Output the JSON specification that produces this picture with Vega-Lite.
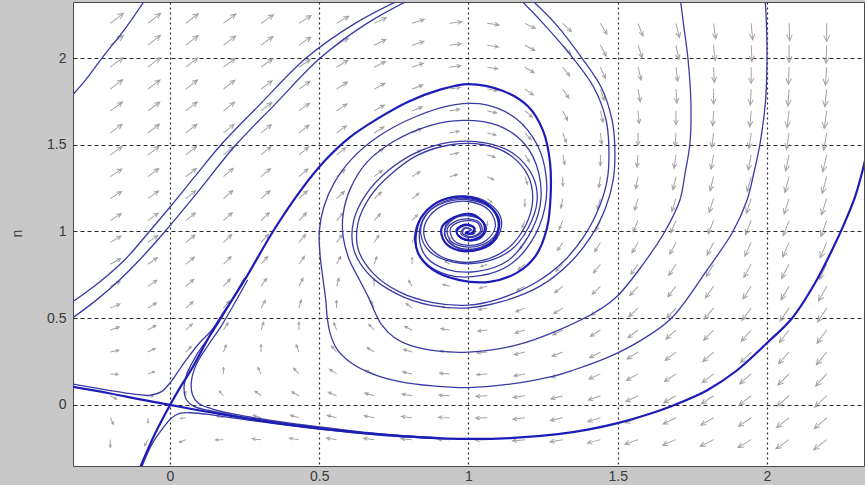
{
"$schema":"https://vega.github.io/schema/vega-lite/v6.json",
"width":791,"height":464,
"autosize":{"type":"none"},
"padding":{"left":73,"top":2,"right":1,"bottom":19},
"background":"#c8c8c8",
"config":{"view":{"fill":"white","stroke":"#4a4a4a","strokeWidth":1},"font":"Liberation Sans"},
"datasets":{
"arrows":[
{"x":-0.2,"y":-0.2,"a":90,"m":0.48},{"x":-0.074,"y":-0.2,"a":119,"m":0.34},{"x":0.053,"y":-0.2,"a":157,"m":0.35},{"x":0.179,"y":-0.2,"a":178,"m":0.49},{"x":0.305,"y":-0.2,"a":-174,"m":0.66},{"x":0.432,"y":-0.2,"a":-171,"m":0.83},{"x":0.558,"y":-0.2,"a":-171,"m":0.99},{"x":0.684,"y":-0.2,"a":-172,"m":1.15},{"x":0.811,"y":-0.2,"a":-175,"m":1.31},{"x":0.937,"y":-0.2,"a":-178,"m":1.47},{"x":1.063,"y":-0.2,"a":178,"m":1.63},{"x":1.189,"y":-0.2,"a":174,"m":1.8},{"x":1.316,"y":-0.2,"a":170,"m":1.99},{"x":1.442,"y":-0.2,"a":165,"m":2.19},{"x":1.568,"y":-0.2,"a":161,"m":2.41},{"x":1.695,"y":-0.2,"a":157,"m":2.66},{"x":1.821,"y":-0.2,"a":153,"m":2.93},{"x":1.947,"y":-0.2,"a":149,"m":3.23},{"x":2.074,"y":-0.2,"a":145,"m":3.56},{"x":2.2,"y":-0.2,"a":142,"m":3.92},
{"x":-0.2,"y":-0.074,"a":64,"m":0.37},{"x":-0.074,"y":-0.074,"a":90,"m":0.16},{"x":0.053,"y":-0.074,"a":173,"m":0.16},{"x":0.179,"y":-0.074,"a":-165,"m":0.34},{"x":0.305,"y":-0.074,"a":-162,"m":0.52},{"x":0.432,"y":-0.074,"a":-163,"m":0.68},{"x":0.558,"y":-0.074,"a":-165,"m":0.84},{"x":0.684,"y":-0.074,"a":-169,"m":1.0},{"x":0.811,"y":-0.074,"a":-173,"m":1.15},{"x":0.937,"y":-0.074,"a":-178,"m":1.31},{"x":1.063,"y":-0.074,"a":178,"m":1.47},{"x":1.189,"y":-0.074,"a":173,"m":1.64},{"x":1.316,"y":-0.074,"a":168,"m":1.84},{"x":1.442,"y":-0.074,"a":163,"m":2.05},{"x":1.568,"y":-0.074,"a":158,"m":2.28},{"x":1.695,"y":-0.074,"a":154,"m":2.55},{"x":1.821,"y":-0.074,"a":150,"m":2.83},{"x":1.947,"y":-0.074,"a":146,"m":3.15},{"x":2.074,"y":-0.074,"a":142,"m":3.51},{"x":2.2,"y":-0.074,"a":139,"m":3.89},
{"x":-0.2,"y":0.053,"a":28,"m":0.37},{"x":-0.074,"y":0.053,"a":8,"m":0.17},{"x":0.053,"y":0.053,"a":-90,"m":0.1},{"x":0.179,"y":0.053,"a":-131,"m":0.25},{"x":0.305,"y":0.053,"a":-143,"m":0.41},{"x":0.432,"y":0.053,"a":-151,"m":0.56},{"x":0.558,"y":0.053,"a":-157,"m":0.71},{"x":0.684,"y":0.053,"a":-164,"m":0.85},{"x":0.811,"y":0.053,"a":-170,"m":0.99},{"x":0.937,"y":0.053,"a":-177,"m":1.14},{"x":1.063,"y":0.053,"a":177,"m":1.31},{"x":1.189,"y":0.053,"a":171,"m":1.49},{"x":1.316,"y":0.053,"a":165,"m":1.69},{"x":1.442,"y":0.053,"a":160,"m":1.91},{"x":1.568,"y":0.053,"a":155,"m":2.16},{"x":1.695,"y":0.053,"a":150,"m":2.44},{"x":1.821,"y":0.053,"a":146,"m":2.75},{"x":1.947,"y":0.053,"a":142,"m":3.09},{"x":2.074,"y":0.053,"a":139,"m":3.47},{"x":2.2,"y":0.053,"a":136,"m":3.87},
{"x":-0.2,"y":0.179,"a":3,"m":0.49},{"x":-0.074,"y":0.179,"a":-19,"m":0.35},{"x":0.053,"y":0.179,"a":-53,"m":0.27},{"x":0.179,"y":0.179,"a":-90,"m":0.29},{"x":0.305,"y":0.179,"a":-116,"m":0.37},{"x":0.432,"y":0.179,"a":-133,"m":0.48},{"x":0.558,"y":0.179,"a":-146,"m":0.59},{"x":0.684,"y":0.179,"a":-157,"m":0.71},{"x":0.811,"y":0.179,"a":-167,"m":0.84},{"x":0.937,"y":0.179,"a":-176,"m":0.98},{"x":1.063,"y":0.179,"a":176,"m":1.14},{"x":1.189,"y":0.179,"a":169,"m":1.33},{"x":1.316,"y":0.179,"a":162,"m":1.54},{"x":1.442,"y":0.179,"a":156,"m":1.78},{"x":1.568,"y":0.179,"a":151,"m":2.05},{"x":1.695,"y":0.179,"a":146,"m":2.35},{"x":1.821,"y":0.179,"a":142,"m":2.68},{"x":1.947,"y":0.179,"a":139,"m":3.04},{"x":2.074,"y":0.179,"a":135,"m":3.44},{"x":2.2,"y":0.179,"a":132,"m":3.87},
{"x":-0.2,"y":0.305,"a":-11,"m":0.66},{"x":-0.074,"y":0.305,"a":-27,"m":0.55},{"x":0.053,"y":0.305,"a":-46,"m":0.47},{"x":0.179,"y":0.305,"a":-68,"m":0.43},{"x":0.305,"y":0.305,"a":-90,"m":0.43},{"x":0.432,"y":0.305,"a":-111,"m":0.45},{"x":0.558,"y":0.305,"a":-130,"m":0.5},{"x":0.684,"y":0.305,"a":-147,"m":0.58},{"x":0.811,"y":0.305,"a":-162,"m":0.69},{"x":0.937,"y":0.305,"a":-174,"m":0.82},{"x":1.063,"y":0.305,"a":175,"m":0.98},{"x":1.189,"y":0.305,"a":166,"m":1.18},{"x":1.316,"y":0.305,"a":159,"m":1.4},{"x":1.442,"y":0.305,"a":152,"m":1.66},{"x":1.568,"y":0.305,"a":147,"m":1.95},{"x":1.695,"y":0.305,"a":142,"m":2.27},{"x":1.821,"y":0.305,"a":138,"m":2.62},{"x":1.947,"y":0.305,"a":135,"m":3.01},{"x":2.074,"y":0.305,"a":132,"m":3.43},{"x":2.2,"y":0.305,"a":129,"m":3.87},
{"x":-0.2,"y":0.432,"a":-19,"m":0.86},{"x":-0.074,"y":0.432,"a":-30,"m":0.76},{"x":0.053,"y":0.432,"a":-43,"m":0.67},{"x":0.179,"y":0.432,"a":-57,"m":0.6},{"x":0.305,"y":0.432,"a":-72,"m":0.54},{"x":0.432,"y":0.432,"a":-90,"m":0.49},{"x":0.558,"y":0.432,"a":-110,"m":0.47},{"x":0.684,"y":0.432,"a":-133,"m":0.48},{"x":0.811,"y":0.432,"a":-154,"m":0.54},{"x":0.937,"y":0.432,"a":-172,"m":0.66},{"x":1.063,"y":0.432,"a":173,"m":0.82},{"x":1.189,"y":0.432,"a":163,"m":1.02},{"x":1.316,"y":0.432,"a":154,"m":1.27},{"x":1.442,"y":0.432,"a":148,"m":1.54},{"x":1.568,"y":0.432,"a":142,"m":1.86},{"x":1.695,"y":0.432,"a":138,"m":2.2},{"x":1.821,"y":0.432,"a":134,"m":2.58},{"x":1.947,"y":0.432,"a":131,"m":2.98},{"x":2.074,"y":0.432,"a":128,"m":3.42},{"x":2.2,"y":0.432,"a":126,"m":3.9},
{"x":-0.2,"y":0.558,"a":-24,"m":1.07},{"x":-0.074,"y":0.558,"a":-32,"m":0.97},{"x":0.053,"y":0.558,"a":-42,"m":0.87},{"x":0.179,"y":0.558,"a":-51,"m":0.78},{"x":0.305,"y":0.558,"a":-61,"m":0.68},{"x":0.432,"y":0.558,"a":-74,"m":0.59},{"x":0.558,"y":0.558,"a":-90,"m":0.49},{"x":0.684,"y":0.558,"a":-113,"m":0.43},{"x":0.811,"y":0.558,"a":-142,"m":0.42},{"x":0.937,"y":0.558,"a":-169,"m":0.5},{"x":1.063,"y":0.558,"a":171,"m":0.66},{"x":1.189,"y":0.558,"a":158,"m":0.88},{"x":1.316,"y":0.558,"a":149,"m":1.14},{"x":1.442,"y":0.558,"a":142,"m":1.44},{"x":1.568,"y":0.558,"a":137,"m":1.78},{"x":1.695,"y":0.558,"a":133,"m":2.15},{"x":1.821,"y":0.558,"a":130,"m":2.54},{"x":1.947,"y":0.558,"a":127,"m":2.97},{"x":2.074,"y":0.558,"a":125,"m":3.44},{"x":2.2,"y":0.558,"a":123,"m":3.93},
{"x":-0.2,"y":0.684,"a":-27,"m":1.28},{"x":-0.074,"y":0.684,"a":-34,"m":1.18},{"x":0.053,"y":0.684,"a":-41,"m":1.07},{"x":0.179,"y":0.684,"a":-47,"m":0.96},{"x":0.305,"y":0.684,"a":-55,"m":0.84},{"x":0.432,"y":0.684,"a":-63,"m":0.71},{"x":0.558,"y":0.684,"a":-73,"m":0.57},{"x":0.684,"y":0.684,"a":-90,"m":0.43},{"x":0.811,"y":0.684,"a":-120,"m":0.33},{"x":0.937,"y":0.684,"a":-163,"m":0.34},{"x":1.063,"y":0.684,"a":167,"m":0.5},{"x":1.189,"y":0.684,"a":151,"m":0.74},{"x":1.316,"y":0.684,"a":142,"m":1.03},{"x":1.442,"y":0.684,"a":136,"m":1.36},{"x":1.568,"y":0.684,"a":132,"m":1.71},{"x":1.695,"y":0.684,"a":128,"m":2.11},{"x":1.821,"y":0.684,"a":125,"m":2.53},{"x":1.947,"y":0.684,"a":123,"m":2.98},{"x":2.074,"y":0.684,"a":121,"m":3.46},{"x":2.2,"y":0.684,"a":119,"m":3.98},
{"x":-0.2,"y":0.811,"a":-29,"m":1.5},{"x":-0.074,"y":0.811,"a":-35,"m":1.39},{"x":0.053,"y":0.811,"a":-40,"m":1.27},{"x":0.179,"y":0.811,"a":-45,"m":1.15},{"x":0.305,"y":0.811,"a":-50,"m":1.01},{"x":0.432,"y":0.811,"a":-55,"m":0.86},{"x":0.558,"y":0.811,"a":-62,"m":0.69},{"x":0.684,"y":0.811,"a":-71,"m":0.5},{"x":0.811,"y":0.811,"a":-90,"m":0.31},{"x":0.937,"y":0.811,"a":-146,"m":0.2},{"x":1.063,"y":0.811,"a":160,"m":0.35},{"x":1.189,"y":0.811,"a":142,"m":0.62},{"x":1.316,"y":0.811,"a":134,"m":0.94},{"x":1.442,"y":0.811,"a":129,"m":1.29},{"x":1.568,"y":0.811,"a":126,"m":1.67},{"x":1.695,"y":0.811,"a":123,"m":2.08},{"x":1.821,"y":0.811,"a":121,"m":2.52},{"x":1.947,"y":0.811,"a":119,"m":3.0},{"x":2.074,"y":0.811,"a":118,"m":3.5},{"x":2.2,"y":0.811,"a":116,"m":4.03},
{"x":-0.2,"y":0.937,"a":-31,"m":1.71},{"x":-0.074,"y":0.937,"a":-35,"m":1.6},{"x":0.053,"y":0.937,"a":-39,"m":1.48},{"x":0.179,"y":0.937,"a":-43,"m":1.34},{"x":0.305,"y":0.937,"a":-47,"m":1.19},{"x":0.432,"y":0.937,"a":-50,"m":1.01},{"x":0.558,"y":0.937,"a":-53,"m":0.82},{"x":0.684,"y":0.937,"a":-57,"m":0.61},{"x":0.811,"y":0.937,"a":-64,"m":0.37},{"x":0.937,"y":0.937,"a":-90,"m":0.12},{"x":1.063,"y":0.937,"a":142,"m":0.21},{"x":1.189,"y":0.937,"a":129,"m":0.52},{"x":1.316,"y":0.937,"a":124,"m":0.86},{"x":1.442,"y":0.937,"a":122,"m":1.24},{"x":1.568,"y":0.937,"a":120,"m":1.64},{"x":1.695,"y":0.937,"a":118,"m":2.07},{"x":1.821,"y":0.937,"a":117,"m":2.54},{"x":1.947,"y":0.937,"a":115,"m":3.03},{"x":2.074,"y":0.937,"a":114,"m":3.55},{"x":2.2,"y":0.937,"a":113,"m":4.1},
{"x":-0.2,"y":1.063,"a":-32,"m":1.93},{"x":-0.074,"y":1.063,"a":-36,"m":1.81},{"x":0.053,"y":1.063,"a":-39,"m":1.68},{"x":0.179,"y":1.063,"a":-42,"m":1.53},{"x":0.305,"y":1.063,"a":-44,"m":1.36},{"x":0.432,"y":1.063,"a":-46,"m":1.18},{"x":0.558,"y":1.063,"a":-48,"m":0.97},{"x":0.684,"y":1.063,"a":-48,"m":0.74},{"x":0.811,"y":1.063,"a":-47,"m":0.48},{"x":0.937,"y":1.063,"a":-38,"m":0.21},{"x":1.063,"y":1.063,"a":90,"m":0.13},{"x":1.189,"y":1.063,"a":111,"m":0.46},{"x":1.316,"y":1.063,"a":113,"m":0.82},{"x":1.442,"y":1.063,"a":114,"m":1.21},{"x":1.568,"y":1.063,"a":114,"m":1.63},{"x":1.695,"y":1.063,"a":113,"m":2.08},{"x":1.821,"y":1.063,"a":112,"m":2.56},{"x":1.947,"y":1.063,"a":112,"m":3.07},{"x":2.074,"y":1.063,"a":111,"m":3.61},{"x":2.2,"y":1.063,"a":110,"m":4.18},
{"x":-0.2,"y":1.189,"a":-33,"m":2.15},{"x":-0.074,"y":1.189,"a":-36,"m":2.02},{"x":0.053,"y":1.189,"a":-39,"m":1.88},{"x":0.179,"y":1.189,"a":-41,"m":1.72},{"x":0.305,"y":1.189,"a":-42,"m":1.54},{"x":0.432,"y":1.189,"a":-43,"m":1.34},{"x":0.558,"y":1.189,"a":-43,"m":1.12},{"x":0.684,"y":1.189,"a":-42,"m":0.88},{"x":0.811,"y":1.189,"a":-38,"m":0.62},{"x":0.937,"y":1.189,"a":-22,"m":0.35},{"x":1.063,"y":1.189,"a":41,"m":0.22},{"x":1.189,"y":1.189,"a":90,"m":0.45},{"x":1.316,"y":1.189,"a":102,"m":0.81},{"x":1.442,"y":1.189,"a":106,"m":1.21},{"x":1.568,"y":1.189,"a":107,"m":1.64},{"x":1.695,"y":1.189,"a":108,"m":2.11},{"x":1.821,"y":1.189,"a":108,"m":2.6},{"x":1.947,"y":1.189,"a":108,"m":3.13},{"x":2.074,"y":1.189,"a":108,"m":3.69},{"x":2.2,"y":1.189,"a":108,"m":4.27},
{"x":-0.2,"y":1.316,"a":-34,"m":2.37},{"x":-0.074,"y":1.316,"a":-37,"m":2.23},{"x":0.053,"y":1.316,"a":-38,"m":2.08},{"x":0.179,"y":1.316,"a":-40,"m":1.91},{"x":0.305,"y":1.316,"a":-41,"m":1.72},{"x":0.432,"y":1.316,"a":-41,"m":1.51},{"x":0.558,"y":1.316,"a":-40,"m":1.28},{"x":0.684,"y":1.316,"a":-38,"m":1.03},{"x":0.811,"y":1.316,"a":-32,"m":0.77},{"x":0.937,"y":1.316,"a":-16,"m":0.51},{"x":1.063,"y":1.316,"a":25,"m":0.36},{"x":1.189,"y":1.316,"a":71,"m":0.5},{"x":1.316,"y":1.316,"a":90,"m":0.83},{"x":1.442,"y":1.316,"a":98,"m":1.23},{"x":1.568,"y":1.316,"a":101,"m":1.67},{"x":1.695,"y":1.316,"a":103,"m":2.15},{"x":1.821,"y":1.316,"a":104,"m":2.66},{"x":1.947,"y":1.316,"a":105,"m":3.2},{"x":2.074,"y":1.316,"a":105,"m":3.77},{"x":2.2,"y":1.316,"a":105,"m":4.37},
{"x":-0.2,"y":1.442,"a":-35,"m":2.59},{"x":-0.074,"y":1.442,"a":-37,"m":2.45},{"x":0.053,"y":1.442,"a":-38,"m":2.28},{"x":0.179,"y":1.442,"a":-39,"m":2.1},{"x":0.305,"y":1.442,"a":-40,"m":1.9},{"x":0.432,"y":1.442,"a":-39,"m":1.68},{"x":0.558,"y":1.442,"a":-38,"m":1.44},{"x":0.684,"y":1.442,"a":-34,"m":1.19},{"x":0.811,"y":1.442,"a":-28,"m":0.92},{"x":0.937,"y":1.442,"a":-13,"m":0.67},{"x":1.063,"y":1.442,"a":18,"m":0.51},{"x":1.189,"y":1.442,"a":57,"m":0.59},{"x":1.316,"y":1.442,"a":79,"m":0.89},{"x":1.442,"y":1.442,"a":90,"m":1.28},{"x":1.568,"y":1.442,"a":95,"m":1.72},{"x":1.695,"y":1.442,"a":98,"m":2.2},{"x":1.821,"y":1.442,"a":100,"m":2.72},{"x":1.947,"y":1.442,"a":101,"m":3.27},{"x":2.074,"y":1.442,"a":102,"m":3.86},{"x":2.2,"y":1.442,"a":103,"m":4.48},
{"x":-0.2,"y":1.568,"a":-36,"m":2.81},{"x":-0.074,"y":1.568,"a":-37,"m":2.66},{"x":0.053,"y":1.568,"a":-38,"m":2.49},{"x":0.179,"y":1.568,"a":-39,"m":2.3},{"x":0.305,"y":1.568,"a":-39,"m":2.09},{"x":0.432,"y":1.568,"a":-38,"m":1.86},{"x":0.558,"y":1.568,"a":-36,"m":1.61},{"x":0.684,"y":1.568,"a":-32,"m":1.34},{"x":0.811,"y":1.568,"a":-25,"m":1.08},{"x":0.937,"y":1.568,"a":-11,"m":0.83},{"x":1.063,"y":1.568,"a":14,"m":0.67},{"x":1.189,"y":1.568,"a":47,"m":0.72},{"x":1.316,"y":1.568,"a":70,"m":0.97},{"x":1.442,"y":1.568,"a":83,"m":1.34},{"x":1.568,"y":1.568,"a":90,"m":1.78},{"x":1.695,"y":1.568,"a":94,"m":2.27},{"x":1.821,"y":1.568,"a":97,"m":2.8},{"x":1.947,"y":1.568,"a":98,"m":3.37},{"x":2.074,"y":1.568,"a":99,"m":3.97},{"x":2.2,"y":1.568,"a":100,"m":4.59},
{"x":-0.2,"y":1.695,"a":-36,"m":3.03},{"x":-0.074,"y":1.695,"a":-37,"m":2.87},{"x":0.053,"y":1.695,"a":-38,"m":2.69},{"x":0.179,"y":1.695,"a":-38,"m":2.49},{"x":0.305,"y":1.695,"a":-38,"m":2.27},{"x":0.432,"y":1.695,"a":-36,"m":2.03},{"x":0.558,"y":1.695,"a":-34,"m":1.77},{"x":0.684,"y":1.695,"a":-30,"m":1.51},{"x":0.811,"y":1.695,"a":-22,"m":1.24},{"x":0.937,"y":1.695,"a":-10,"m":0.99},{"x":1.063,"y":1.695,"a":12,"m":0.83},{"x":1.189,"y":1.695,"a":40,"m":0.85},{"x":1.316,"y":1.695,"a":63,"m":1.07},{"x":1.442,"y":1.695,"a":77,"m":1.42},{"x":1.568,"y":1.695,"a":85,"m":1.86},{"x":1.695,"y":1.695,"a":90,"m":2.36},{"x":1.821,"y":1.695,"a":93,"m":2.89},{"x":1.947,"y":1.695,"a":95,"m":3.46},{"x":2.074,"y":1.695,"a":97,"m":4.08},{"x":2.2,"y":1.695,"a":98,"m":4.72},
{"x":-0.2,"y":1.821,"a":-37,"m":3.25},{"x":-0.074,"y":1.821,"a":-37,"m":3.08},{"x":0.053,"y":1.821,"a":-38,"m":2.89},{"x":0.179,"y":1.821,"a":-38,"m":2.68},{"x":0.305,"y":1.821,"a":-37,"m":2.45},{"x":0.432,"y":1.821,"a":-35,"m":2.2},{"x":0.558,"y":1.821,"a":-33,"m":1.94},{"x":0.684,"y":1.821,"a":-28,"m":1.67},{"x":0.811,"y":1.821,"a":-21,"m":1.4},{"x":0.937,"y":1.821,"a":-9,"m":1.15},{"x":1.063,"y":1.821,"a":10,"m":0.99},{"x":1.189,"y":1.821,"a":35,"m":0.99},{"x":1.316,"y":1.821,"a":57,"m":1.19},{"x":1.442,"y":1.821,"a":71,"m":1.52},{"x":1.568,"y":1.821,"a":80,"m":1.95},{"x":1.695,"y":1.821,"a":86,"m":2.45},{"x":1.821,"y":1.821,"a":90,"m":2.99},{"x":1.947,"y":1.821,"a":93,"m":3.57},{"x":2.074,"y":1.821,"a":94,"m":4.2},{"x":2.2,"y":1.821,"a":96,"m":4.85},
{"x":-0.2,"y":1.947,"a":-37,"m":3.47},{"x":-0.074,"y":1.947,"a":-38,"m":3.29},{"x":0.053,"y":1.947,"a":-38,"m":3.09},{"x":0.179,"y":1.947,"a":-37,"m":2.87},{"x":0.305,"y":1.947,"a":-36,"m":2.63},{"x":0.432,"y":1.947,"a":-35,"m":2.38},{"x":0.558,"y":1.947,"a":-32,"m":2.11},{"x":0.684,"y":1.947,"a":-27,"m":1.83},{"x":0.811,"y":1.947,"a":-20,"m":1.56},{"x":0.937,"y":1.947,"a":-8,"m":1.32},{"x":1.063,"y":1.947,"a":9,"m":1.16},{"x":1.189,"y":1.947,"a":31,"m":1.14},{"x":1.316,"y":1.947,"a":52,"m":1.31},{"x":1.442,"y":1.947,"a":66,"m":1.63},{"x":1.568,"y":1.947,"a":76,"m":2.06},{"x":1.695,"y":1.947,"a":83,"m":2.55},{"x":1.821,"y":1.947,"a":87,"m":3.1},{"x":1.947,"y":1.947,"a":90,"m":3.69},{"x":2.074,"y":1.947,"a":92,"m":4.32},{"x":2.2,"y":1.947,"a":94,"m":4.99},
{"x":-0.2,"y":2.074,"a":-37,"m":3.7},{"x":-0.074,"y":2.074,"a":-38,"m":3.51},{"x":0.053,"y":2.074,"a":-38,"m":3.29},{"x":0.179,"y":2.074,"a":-37,"m":3.07},{"x":0.305,"y":2.074,"a":-36,"m":2.82},{"x":0.432,"y":2.074,"a":-34,"m":2.55},{"x":0.558,"y":2.074,"a":-31,"m":2.28},{"x":0.684,"y":2.074,"a":-26,"m":1.99},{"x":0.811,"y":2.074,"a":-18,"m":1.72},{"x":0.937,"y":2.074,"a":-7,"m":1.48},{"x":1.063,"y":2.074,"a":9,"m":1.32},{"x":1.189,"y":2.074,"a":28,"m":1.3},{"x":1.316,"y":2.074,"a":48,"m":1.45},{"x":1.442,"y":2.074,"a":62,"m":1.75},{"x":1.568,"y":2.074,"a":72,"m":2.17},{"x":1.695,"y":2.074,"a":79,"m":2.66},{"x":1.821,"y":2.074,"a":84,"m":3.21},{"x":1.947,"y":2.074,"a":87,"m":3.81},{"x":2.074,"y":2.074,"a":90,"m":4.45},{"x":2.2,"y":2.074,"a":92,"m":5.13},
{"x":-0.2,"y":2.2,"a":-38,"m":3.92},{"x":-0.074,"y":2.2,"a":-38,"m":3.72},{"x":0.053,"y":2.2,"a":-38,"m":3.5},{"x":0.179,"y":2.2,"a":-37,"m":3.26},{"x":0.305,"y":2.2,"a":-35,"m":3.0},{"x":0.432,"y":2.2,"a":-33,"m":2.73},{"x":0.558,"y":2.2,"a":-30,"m":2.44},{"x":0.684,"y":2.2,"a":-25,"m":2.16},{"x":0.811,"y":2.2,"a":-18,"m":1.88},{"x":0.937,"y":2.2,"a":-7,"m":1.64},{"x":1.063,"y":2.2,"a":8,"m":1.48},{"x":1.189,"y":2.2,"a":26,"m":1.45},{"x":1.316,"y":2.2,"a":44,"m":1.59},{"x":1.442,"y":2.2,"a":59,"m":1.88},{"x":1.568,"y":2.2,"a":69,"m":2.29},{"x":1.695,"y":2.2,"a":76,"m":2.78},{"x":1.821,"y":2.2,"a":82,"m":3.34},{"x":1.947,"y":2.2,"a":85,"m":3.94},{"x":2.074,"y":2.2,"a":88,"m":4.59},{"x":2.2,"y":2.2,"a":90,"m":5.28}
],
"thick":[
{"id":"u","k":0,"x":0,"y":0},{"id":"u","k":1,"x":0.03,"y":0.09},{"id":"u","k":2,"x":0.07,"y":0.2},{"id":"u","k":3,"x":0.144,"y":0.432},{"id":"u","k":4,"x":0.25,"y":0.72},{"id":"u","k":5,"x":0.345,"y":1.0},{"id":"u","k":6,"x":0.435,"y":1.23},{"id":"u","k":7,"x":0.52,"y":1.41},{"id":"u","k":8,"x":0.6,"y":1.54},{"id":"u","k":9,"x":0.7,"y":1.655},{"id":"u","k":10,"x":0.8,"y":1.75},{"id":"u","k":11,"x":0.9,"y":1.815},{"id":"u","k":12,"x":1.0,"y":1.85},{"id":"u","k":13,"x":1.116,"y":1.81},{"id":"u","k":14,"x":1.2,"y":1.72},{"id":"u","k":15,"x":1.25,"y":1.58},{"id":"u","k":16,"x":1.273,"y":1.4},{"id":"u","k":17,"x":1.275,"y":1.2},{"id":"u","k":18,"x":1.263,"y":1.02},{"id":"u","k":19,"x":1.225,"y":0.86},{"id":"u","k":20,"x":1.16,"y":0.76},{"id":"u","k":21,"x":1.07,"y":0.71},{"id":"u","k":22,"x":0.97,"y":0.72},{"id":"u","k":23,"x":0.88,"y":0.78},{"id":"u","k":24,"x":0.83,"y":0.88},{"id":"u","k":25,"x":0.825,"y":1.0},{"id":"u","k":26,"x":0.85,"y":1.1},{"id":"u","k":27,"x":0.91,"y":1.18},{"id":"u","k":28,"x":0.99,"y":1.2},{"id":"u","k":29,"x":1.06,"y":1.16},{"id":"u","k":30,"x":1.1,"y":1.07},{"id":"u","k":31,"x":1.09,"y":0.96},{"id":"u","k":32,"x":1.04,"y":0.9},{"id":"u","k":33,"x":0.97,"y":0.89},{"id":"u","k":34,"x":0.92,"y":0.94},{"id":"u","k":35,"x":0.91,"y":1.02},{"id":"u","k":36,"x":0.95,"y":1.08},{"id":"u","k":37,"x":1.01,"y":1.1},{"id":"u","k":38,"x":1.05,"y":1.05},{"id":"u","k":39,"x":1.05,"y":0.99},{"id":"u","k":40,"x":1.01,"y":0.95},{"id":"u","k":41,"x":0.97,"y":0.97},{"id":"u","k":42,"x":0.96,"y":1.01},{"id":"u","k":43,"x":0.99,"y":1.04},{"id":"u","k":44,"x":1.02,"y":1.02},{"id":"u","k":45,"x":1.01,"y":0.99},{"id":"u","k":46,"x":0.99,"y":0.99},{"id":"u","k":47,"x":1.0,"y":1.0},
{"id":"dn","k":0,"x":0,"y":0},{"id":"dn","k":1,"x":-0.05,"y":-0.165},{"id":"dn","k":2,"x":-0.1,"y":-0.36},
{"id":"sl","k":0,"x":-0.33,"y":0.105},{"id":"sl","k":1,"x":-0.2,"y":0.066},{"id":"sl","k":2,"x":-0.1,"y":0.032},{"id":"sl","k":3,"x":0,"y":0},
{"id":"sr","k":0,"x":0,"y":0},{"id":"sr","k":1,"x":0.1,"y":-0.032},{"id":"sr","k":2,"x":0.2,"y":-0.062},{"id":"sr","k":3,"x":0.3,"y":-0.09},{"id":"sr","k":4,"x":0.435,"y":-0.122},{"id":"sr","k":5,"x":0.55,"y":-0.145},{"id":"sr","k":6,"x":0.7,"y":-0.17},{"id":"sr","k":7,"x":0.85,"y":-0.188},{"id":"sr","k":8,"x":1.0,"y":-0.196},{"id":"sr","k":9,"x":1.15,"y":-0.19},{"id":"sr","k":10,"x":1.3,"y":-0.168},{"id":"sr","k":11,"x":1.4,"y":-0.142},{"id":"sr","k":12,"x":1.5,"y":-0.105},{"id":"sr","k":13,"x":1.6,"y":-0.055},{"id":"sr","k":14,"x":1.69,"y":0.0},{"id":"sr","k":15,"x":1.8,"y":0.085},{"id":"sr","k":16,"x":1.9,"y":0.2},{"id":"sr","k":17,"x":2.0,"y":0.357},{"id":"sr","k":18,"x":2.084,"y":0.5},{"id":"sr","k":19,"x":2.16,"y":0.7},{"id":"sr","k":20,"x":2.22,"y":0.9},{"id":"sr","k":21,"x":2.26,"y":1.05},{"id":"sr","k":22,"x":2.295,"y":1.2},{"id":"sr","k":23,"x":2.32,"y":1.35},{"id":"sr","k":24,"x":2.34,"y":1.5}
],
"thin":[
{"id":"ta","k":0,"x":-0.33,"y":1.78},{"id":"ta","k":1,"x":-0.28,"y":1.88},{"id":"ta","k":2,"x":-0.228,"y":2.0},{"id":"ta","k":3,"x":-0.15,"y":2.17},{"id":"ta","k":4,"x":-0.074,"y":2.36},
{"id":"b1a","k":0,"x":-0.33,"y":0.59},{"id":"b1a","k":1,"x":-0.24,"y":0.703},{"id":"b1a","k":2,"x":-0.15,"y":0.84},{"id":"b1a","k":3,"x":-0.074,"y":0.99},{"id":"b1a","k":4,"x":0,"y":1.141},{"id":"b1a","k":5,"x":0.08,"y":1.31},{"id":"b1a","k":6,"x":0.171,"y":1.5},{"id":"b1a","k":7,"x":0.3,"y":1.73},{"id":"b1a","k":8,"x":0.456,"y":2.0},{"id":"b1a","k":9,"x":0.62,"y":2.2},{"id":"b1a","k":10,"x":0.8,"y":2.36},
{"id":"b2a","k":0,"x":-0.33,"y":0.497},{"id":"b2a","k":1,"x":-0.25,"y":0.6},{"id":"b2a","k":2,"x":-0.18,"y":0.703},{"id":"b2a","k":3,"x":-0.1,"y":0.84},{"id":"b2a","k":4,"x":-0.017,"y":1.0},{"id":"b2a","k":5,"x":0.08,"y":1.2},{"id":"b2a","k":6,"x":0.221,"y":1.5},{"id":"b2a","k":7,"x":0.35,"y":1.73},{"id":"b2a","k":8,"x":0.503,"y":2.0},{"id":"b2a","k":9,"x":0.66,"y":2.2},{"id":"b2a","k":10,"x":0.83,"y":2.36},
{"id":"b1b","k":0,"x":1.16,"y":2.36},{"id":"b1b","k":1,"x":1.25,"y":2.2},{"id":"b1b","k":2,"x":1.35,"y":2.0},{"id":"b1b","k":3,"x":1.42,"y":1.83},{"id":"b1b","k":4,"x":1.46,"y":1.65},{"id":"b1b","k":5,"x":1.47,"y":1.5},{"id":"b1b","k":6,"x":1.465,"y":1.3},{"id":"b1b","k":7,"x":1.44,"y":1.15},{"id":"b1b","k":8,"x":1.39,"y":0.98},{"id":"b1b","k":9,"x":1.32,"y":0.83},{"id":"b1b","k":10,"x":1.22,"y":0.7},{"id":"b1b","k":11,"x":1.1,"y":0.61},{"id":"b1b","k":12,"x":1.0,"y":0.575},{"id":"b1b","k":13,"x":0.88,"y":0.59},{"id":"b1b","k":14,"x":0.77,"y":0.65},{"id":"b1b","k":15,"x":0.68,"y":0.76},{"id":"b1b","k":16,"x":0.63,"y":0.9},{"id":"b1b","k":17,"x":0.63,"y":1.05},{"id":"b1b","k":18,"x":0.67,"y":1.2},{"id":"b1b","k":19,"x":0.74,"y":1.33},{"id":"b1b","k":20,"x":0.83,"y":1.44},{"id":"b1b","k":21,"x":0.94,"y":1.5},{"id":"b1b","k":22,"x":1.05,"y":1.5},{"id":"b1b","k":23,"x":1.14,"y":1.44},{"id":"b1b","k":24,"x":1.2,"y":1.32},{"id":"b1b","k":25,"x":1.215,"y":1.18},{"id":"b1b","k":26,"x":1.19,"y":1.03},{"id":"b1b","k":27,"x":1.13,"y":0.9},{"id":"b1b","k":28,"x":1.04,"y":0.83},{"id":"b1b","k":29,"x":0.95,"y":0.83},{"id":"b1b","k":30,"x":0.88,"y":0.89},{"id":"b1b","k":31,"x":0.85,"y":0.99},{"id":"b1b","k":32,"x":0.87,"y":1.09},{"id":"b1b","k":33,"x":0.93,"y":1.16},{"id":"b1b","k":34,"x":1.01,"y":1.17},{"id":"b1b","k":35,"x":1.07,"y":1.12},{"id":"b1b","k":36,"x":1.09,"y":1.03},{"id":"b1b","k":37,"x":1.06,"y":0.95},{"id":"b1b","k":38,"x":1.0,"y":0.92},{"id":"b1b","k":39,"x":0.95,"y":0.95},{"id":"b1b","k":40,"x":0.94,"y":1.02},{"id":"b1b","k":41,"x":0.98,"y":1.06},{"id":"b1b","k":42,"x":1.03,"y":1.05},{"id":"b1b","k":43,"x":1.04,"y":1.0},{"id":"b1b","k":44,"x":1.01,"y":0.97},{"id":"b1b","k":45,"x":0.98,"y":0.99},{"id":"b1b","k":46,"x":0.99,"y":1.02},{"id":"b1b","k":47,"x":1.01,"y":1.01},{"id":"b1b","k":48,"x":1.0,"y":1.0},
{"id":"b2b","k":0,"x":1.196,"y":2.36},{"id":"b2b","k":1,"x":1.29,"y":2.2},{"id":"b2b","k":2,"x":1.38,"y":2.0},{"id":"b2b","k":3,"x":1.445,"y":1.83},{"id":"b2b","k":4,"x":1.48,"y":1.65},{"id":"b2b","k":5,"x":1.49,"y":1.5},{"id":"b2b","k":6,"x":1.485,"y":1.3},{"id":"b2b","k":7,"x":1.46,"y":1.14},{"id":"b2b","k":8,"x":1.41,"y":0.97},{"id":"b2b","k":9,"x":1.34,"y":0.82},{"id":"b2b","k":10,"x":1.24,"y":0.685},{"id":"b2b","k":11,"x":1.11,"y":0.595},{"id":"b2b","k":12,"x":1.0,"y":0.56},{"id":"b2b","k":13,"x":0.87,"y":0.575},{"id":"b2b","k":14,"x":0.76,"y":0.64},{"id":"b2b","k":15,"x":0.665,"y":0.755},{"id":"b2b","k":16,"x":0.615,"y":0.9},{"id":"b2b","k":17,"x":0.615,"y":1.06},{"id":"b2b","k":18,"x":0.655,"y":1.21},{"id":"b2b","k":19,"x":0.73,"y":1.35},{"id":"b2b","k":20,"x":0.825,"y":1.455},{"id":"b2b","k":21,"x":0.94,"y":1.515},{"id":"b2b","k":22,"x":1.06,"y":1.51},{"id":"b2b","k":23,"x":1.15,"y":1.45},{"id":"b2b","k":24,"x":1.215,"y":1.32},{"id":"b2b","k":25,"x":1.23,"y":1.18},{"id":"b2b","k":26,"x":1.2,"y":1.02},{"id":"b2b","k":27,"x":1.14,"y":0.89},{"id":"b2b","k":28,"x":1.04,"y":0.82},{"id":"b2b","k":29,"x":0.945,"y":0.825},{"id":"b2b","k":30,"x":0.87,"y":0.885},{"id":"b2b","k":31,"x":0.84,"y":0.99},{"id":"b2b","k":32,"x":0.86,"y":1.1},{"id":"b2b","k":33,"x":0.925,"y":1.17},{"id":"b2b","k":34,"x":1.01,"y":1.18},{"id":"b2b","k":35,"x":1.08,"y":1.125},{"id":"b2b","k":36,"x":1.1,"y":1.03},{"id":"b2b","k":37,"x":1.07,"y":0.945},{"id":"b2b","k":38,"x":1.0,"y":0.91},{"id":"b2b","k":39,"x":0.94,"y":0.945},{"id":"b2b","k":40,"x":0.93,"y":1.02},{"id":"b2b","k":41,"x":0.975,"y":1.07},{"id":"b2b","k":42,"x":1.035,"y":1.055},{"id":"b2b","k":43,"x":1.045,"y":1.0},{"id":"b2b","k":44,"x":1.01,"y":0.965},{"id":"b2b","k":45,"x":0.975,"y":0.985},{"id":"b2b","k":46,"x":0.985,"y":1.02},{"id":"b2b","k":47,"x":1.01,"y":1.01},{"id":"b2b","k":48,"x":1.0,"y":1.0},
{"id":"c","k":0,"x":1.708,"y":2.36},{"id":"c","k":1,"x":1.72,"y":2.2},{"id":"c","k":2,"x":1.735,"y":2.0},{"id":"c","k":3,"x":1.745,"y":1.75},{"id":"c","k":4,"x":1.742,"y":1.51},{"id":"c","k":5,"x":1.725,"y":1.33},{"id":"c","k":6,"x":1.708,"y":1.18},{"id":"c","k":7,"x":1.658,"y":1.0},{"id":"c","k":8,"x":1.58,"y":0.8},{"id":"c","k":9,"x":1.5,"y":0.63},{"id":"c","k":10,"x":1.44,"y":0.55},{"id":"c","k":11,"x":1.3,"y":0.43},{"id":"c","k":12,"x":1.16,"y":0.345},{"id":"c","k":13,"x":1.0,"y":0.305},{"id":"c","k":14,"x":0.9,"y":0.31},{"id":"c","k":15,"x":0.81,"y":0.34},{"id":"c","k":16,"x":0.75,"y":0.39},{"id":"c","k":17,"x":0.71,"y":0.46},{"id":"c","k":18,"x":0.685,"y":0.54},{"id":"c","k":19,"x":0.665,"y":0.62},{"id":"c","k":20,"x":0.635,"y":0.72},{"id":"c","k":21,"x":0.6,"y":0.84},{"id":"c","k":22,"x":0.58,"y":0.97},{"id":"c","k":23,"x":0.58,"y":1.1},{"id":"c","k":24,"x":0.605,"y":1.25},{"id":"c","k":25,"x":0.66,"y":1.4},{"id":"c","k":26,"x":0.75,"y":1.52},{"id":"c","k":27,"x":0.86,"y":1.605},{"id":"c","k":28,"x":0.98,"y":1.64},{"id":"c","k":29,"x":1.1,"y":1.61},{"id":"c","k":30,"x":1.19,"y":1.5},{"id":"c","k":31,"x":1.235,"y":1.34},{"id":"c","k":32,"x":1.24,"y":1.15},{"id":"c","k":33,"x":1.2,"y":0.97},{"id":"c","k":34,"x":1.13,"y":0.83},{"id":"c","k":35,"x":1.03,"y":0.77},{"id":"c","k":36,"x":0.93,"y":0.78},{"id":"c","k":37,"x":0.86,"y":0.85},{"id":"c","k":38,"x":0.835,"y":0.97},{"id":"c","k":39,"x":0.855,"y":1.09},{"id":"c","k":40,"x":0.915,"y":1.17},{"id":"c","k":41,"x":1.0,"y":1.19},{"id":"c","k":42,"x":1.075,"y":1.14},{"id":"c","k":43,"x":1.105,"y":1.05},{"id":"c","k":44,"x":1.08,"y":0.95},{"id":"c","k":45,"x":1.02,"y":0.9},{"id":"c","k":46,"x":0.955,"y":0.915},{"id":"c","k":47,"x":0.92,"y":0.98},{"id":"c","k":48,"x":0.935,"y":1.05},{"id":"c","k":49,"x":0.98,"y":1.09},{"id":"c","k":50,"x":1.04,"y":1.07},{"id":"c","k":51,"x":1.06,"y":1.01},{"id":"c","k":52,"x":1.03,"y":0.955},{"id":"c","k":53,"x":0.98,"y":0.955},{"id":"c","k":54,"x":0.96,"y":1.0},{"id":"c","k":55,"x":0.985,"y":1.035},{"id":"c","k":56,"x":1.02,"y":1.02},{"id":"c","k":57,"x":1.015,"y":0.985},{"id":"c","k":58,"x":0.995,"y":0.99},{"id":"c","k":59,"x":1.0,"y":1.0},
{"id":"d","k":0,"x":1.993,"y":2.36},{"id":"d","k":1,"x":1.998,"y":2.2},{"id":"d","k":2,"x":2.0,"y":2.0},{"id":"d","k":3,"x":1.995,"y":1.75},{"id":"d","k":4,"x":1.977,"y":1.51},{"id":"d","k":5,"x":1.955,"y":1.33},{"id":"d","k":6,"x":1.933,"y":1.18},{"id":"d","k":7,"x":1.886,"y":1.0},{"id":"d","k":8,"x":1.8,"y":0.78},{"id":"d","k":9,"x":1.68,"y":0.5},{"id":"d","k":10,"x":1.58,"y":0.375},{"id":"d","k":11,"x":1.5,"y":0.3},{"id":"d","k":12,"x":1.44,"y":0.255},{"id":"d","k":13,"x":1.35,"y":0.2},{"id":"d","k":14,"x":1.27,"y":0.16},{"id":"d","k":15,"x":1.13,"y":0.118},{"id":"d","k":16,"x":1.0,"y":0.1},{"id":"d","k":17,"x":0.88,"y":0.11},{"id":"d","k":18,"x":0.77,"y":0.135},{"id":"d","k":19,"x":0.68,"y":0.178},{"id":"d","k":20,"x":0.605,"y":0.245},{"id":"d","k":21,"x":0.56,"y":0.32},{"id":"d","k":22,"x":0.537,"y":0.41},{"id":"d","k":23,"x":0.527,"y":0.5},{"id":"d","k":24,"x":0.522,"y":0.6},{"id":"d","k":25,"x":0.513,"y":0.72},{"id":"d","k":26,"x":0.503,"y":0.86},{"id":"d","k":27,"x":0.5,"y":1.0},{"id":"d","k":28,"x":0.515,"y":1.14},{"id":"d","k":29,"x":0.55,"y":1.28},{"id":"d","k":30,"x":0.61,"y":1.42},{"id":"d","k":31,"x":0.7,"y":1.55},{"id":"d","k":32,"x":0.82,"y":1.66},{"id":"d","k":33,"x":0.95,"y":1.73},{"id":"d","k":34,"x":1.06,"y":1.73},{"id":"d","k":35,"x":1.16,"y":1.65},{"id":"d","k":36,"x":1.23,"y":1.5},{"id":"d","k":37,"x":1.26,"y":1.32},{"id":"d","k":38,"x":1.255,"y":1.13},{"id":"d","k":39,"x":1.21,"y":0.94},{"id":"d","k":40,"x":1.14,"y":0.81},{"id":"d","k":41,"x":1.04,"y":0.745},{"id":"d","k":42,"x":0.93,"y":0.75},{"id":"d","k":43,"x":0.85,"y":0.83},{"id":"d","k":44,"x":0.82,"y":0.95},{"id":"d","k":45,"x":0.84,"y":1.08},{"id":"d","k":46,"x":0.9,"y":1.17},{"id":"d","k":47,"x":0.99,"y":1.205},{"id":"d","k":48,"x":1.07,"y":1.16},{"id":"d","k":49,"x":1.11,"y":1.07},{"id":"d","k":50,"x":1.095,"y":0.96},{"id":"d","k":51,"x":1.04,"y":0.895},{"id":"d","k":52,"x":0.97,"y":0.9},{"id":"d","k":53,"x":0.925,"y":0.96},{"id":"d","k":54,"x":0.925,"y":1.04},{"id":"d","k":55,"x":0.97,"y":1.09},{"id":"d","k":56,"x":1.03,"y":1.08},{"id":"d","k":57,"x":1.06,"y":1.02},{"id":"d","k":58,"x":1.04,"y":0.96},{"id":"d","k":59,"x":0.99,"y":0.95},{"id":"d","k":60,"x":0.96,"y":0.99},{"id":"d","k":61,"x":0.98,"y":1.03},{"id":"d","k":62,"x":1.015,"y":1.025},{"id":"d","k":63,"x":1.02,"y":0.99},{"id":"d","k":64,"x":1.0,"y":0.985},{"id":"d","k":65,"x":1.0,"y":1.0},
{"id":"s1","k":0,"x":-0.33,"y":0.122},{"id":"s1","k":1,"x":-0.2,"y":0.083},{"id":"s1","k":2,"x":-0.12,"y":0.062},{"id":"s1","k":3,"x":-0.07,"y":0.055},{"id":"s1","k":4,"x":-0.03,"y":0.075},{"id":"s1","k":5,"x":0.0,"y":0.127},{"id":"s1","k":6,"x":0.05,"y":0.25},{"id":"s1","k":7,"x":0.1,"y":0.36},{"id":"s1","k":8,"x":0.144,"y":0.44},{"id":"s1","k":9,"x":0.25,"y":0.73},
{"id":"s2","k":0,"x":0.9,"y":-0.19},{"id":"s2","k":1,"x":0.7,"y":-0.168},{"id":"s2","k":2,"x":0.5,"y":-0.13},{"id":"s2","k":3,"x":0.35,"y":-0.097},{"id":"s2","k":4,"x":0.22,"y":-0.062},{"id":"s2","k":5,"x":0.13,"y":-0.032},{"id":"s2","k":6,"x":0.08,"y":-0.008},{"id":"s2","k":7,"x":0.055,"y":0.03},{"id":"s2","k":8,"x":0.047,"y":0.1},{"id":"s2","k":9,"x":0.057,"y":0.18},{"id":"s2","k":10,"x":0.09,"y":0.29},{"id":"s2","k":11,"x":0.15,"y":0.44},{"id":"s2","k":12,"x":0.25,"y":0.73},
{"id":"s3","k":0,"x":0.9,"y":-0.188},{"id":"s3","k":1,"x":0.7,"y":-0.165},{"id":"s3","k":2,"x":0.5,"y":-0.126},{"id":"s3","k":3,"x":0.35,"y":-0.092},{"id":"s3","k":4,"x":0.22,"y":-0.055},{"id":"s3","k":5,"x":0.14,"y":-0.022},{"id":"s3","k":6,"x":0.095,"y":0.01},{"id":"s3","k":7,"x":0.075,"y":0.06},{"id":"s3","k":8,"x":0.072,"y":0.14},{"id":"s3","k":9,"x":0.09,"y":0.24},{"id":"s3","k":10,"x":0.13,"y":0.35},{"id":"s3","k":11,"x":0.17,"y":0.45},{"id":"s3","k":12,"x":0.26,"y":0.72},
{"id":"s4","k":0,"x":0.9,"y":-0.194},{"id":"s4","k":1,"x":0.7,"y":-0.174},{"id":"s4","k":2,"x":0.5,"y":-0.14},{"id":"s4","k":3,"x":0.3,"y":-0.096},{"id":"s4","k":4,"x":0.15,"y":-0.06},{"id":"s4","k":5,"x":0.07,"y":-0.045},{"id":"s4","k":6,"x":0.03,"y":-0.05},{"id":"s4","k":7,"x":0.005,"y":-0.075},{"id":"s4","k":8,"x":-0.02,"y":-0.125},{"id":"s4","k":9,"x":-0.06,"y":-0.225},{"id":"s4","k":10,"x":-0.095,"y":-0.36}
]
},
"layer":[
{"data":{"name":"arrows"},
 "mark":{"type":"point","shape":"M0,0L2,0M1.3,-0.32L2,0L1.3,0.32","filled":false,"color":"#a4a4a4","strokeWidth":1,"opacity":1,"clip":true},
 "encoding":{
  "x":{"field":"x","type":"quantitative","scale":{"domain":[-0.325,2.325],"nice":false,"zero":false},
       "axis":{"values":[0,0.5,1,1.5,2],"format":"~g","grid":true,"gridDash":[2,3],"gridColor":"#2a2a2a","gridWidth":1.2,"gridOpacity":1,"ticks":false,"domain":false,"labelFontSize":14,"labelColor":"#3a3a3a","labelPadding":3,"labelFlush":false,"title":null}},
  "y":{"field":"y","type":"quantitative","scale":{"domain":[-0.352,2.323],"nice":false,"zero":false},
       "axis":{"values":[0,0.5,1,1.5,2],"format":"~g","grid":true,"gridDash":[4,3],"gridColor":"#2a2a2a","gridWidth":1.2,"gridOpacity":1,"ticks":false,"domain":false,"labelFontSize":14,"labelColor":"#3a3a3a","labelPadding":7,"labelFlush":false,"title":"n","titleFontSize":14,"titleFontWeight":"normal","titleColor":"#3a3a3a","titleX":-56,"titleY":231,"titleAngle":-90,"titleAlign":"center","titleBaseline":"middle"}},
  "angle":{"field":"a","type":"quantitative","scale":null},
  "size":{"field":"m","type":"quantitative","scale":{"type":"pow","exponent":0.7,"domain":[0,5.3],"range":[0,340]},"legend":null}
 }},
{"data":{"name":"thin"},
 "mark":{"type":"line","color":"#3a3aa6","strokeWidth":1.3,"interpolate":"catmull-rom","clip":true},
 "encoding":{"x":{"field":"x","type":"quantitative"},"y":{"field":"y","type":"quantitative"},"detail":{"field":"id"},"order":{"field":"k"}}},
{"data":{"name":"thick"},
 "mark":{"type":"line","color":"#1c1cb8","strokeWidth":2.2,"interpolate":"catmull-rom","clip":true},
 "encoding":{"x":{"field":"x","type":"quantitative"},"y":{"field":"y","type":"quantitative"},"detail":{"field":"id"},"order":{"field":"k"}}}
]
}
